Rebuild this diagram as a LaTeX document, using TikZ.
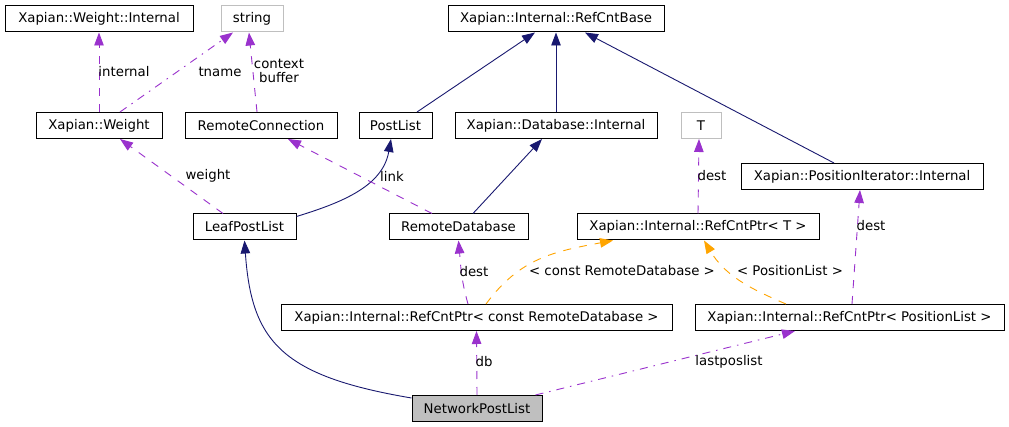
\documentclass[tikz,border=0pt]{standalone}
\usepackage{fontspec}
\setmainfont{DejaVu Sans}
\usetikzlibrary{arrows.meta}
\definecolor{depc}{RGB}{154,50,205}
\definecolor{inhc}{RGB}{25,25,112}
\definecolor{tplc}{RGB}{255,165,0}
\definecolor{greyb}{RGB}{191,191,191}
\begin{document}
\begin{tikzpicture}[x=1pt,y=1pt,
  cls/.style={draw=black, line width=1pt, inner sep=0pt, minimum height=26pt,
    font=\fontsize{13.3}{16}\selectfont},
  ext/.style={cls, draw=greyb},
  cur/.style={cls, fill=greyb},
  lbl/.style={inner sep=0pt, font=\fontsize{13.3}{16}\selectfont, align=center},
  tipx/.style={-{Triangle[length=13pt,width=9.5pt]}},
  inharr/.style={draw=inhc, line width=0.9pt, tipx},
  usearr/.style={draw=depc, line width=0.9pt, dash pattern=on 8pt off 8pt, tipx},
  usedot/.style={draw=depc, line width=0.9pt, dash pattern=on 8pt off 6pt on 1.5pt off 6pt, tipx},
  tplarr/.style={draw=tplc, line width=0.9pt, dash pattern=on 8pt off 8pt, tipx}
]
\fill[white] (0,0) rectangle (1009,-427);
\useasboundingbox (0,0) rectangle (1009,-427);

% nodes
\node[cls, minimum width=188pt] (wi) at (99,-19) {Xapian::Weight::Internal};
\node[ext, minimum width=62pt] (str) at (252,-19) {string};
\node[cls, minimum width=216pt] (rcb) at (556,-19) {Xapian::Internal::RefCntBase};
\node[cls, minimum width=126pt] (w) at (99,-125.5) {Xapian::Weight};
\node[cls, minimum width=152pt] (rc) at (261,-125.5) {RemoteConnection};
\node[cls, minimum width=73pt] (pl) at (395.5,-125.5) {PostList};
\node[cls, minimum width=202pt] (dbi) at (556,-125.5) {Xapian::Database::Internal};
\node[ext, minimum width=40pt] (t) at (701,-125.5) {T};
\node[cls, minimum width=242pt] (pii) at (862,-176.5) {Xapian::PositionIterator::Internal};
\node[cls, minimum width=103pt] (lpl) at (244.5,-227) {LeafPostList};
\node[cls, minimum width=139pt] (rd) at (458.5,-227) {RemoteDatabase};
\node[cls, minimum width=242pt] (rct) at (698,-227) {Xapian::Internal::RefCntPtr< T >};
\node[cls, minimum width=391pt] (rcrd) at (476.5,-317.5) {Xapian::Internal::RefCntPtr< const RemoteDatabase >};
\node[cls, minimum width=309pt] (rpl) at (849.5,-317.5) {Xapian::Internal::RefCntPtr< PositionList >};
\node[cur, minimum width=130pt] (npl) at (477,-408.5) {NetworkPostList};

% connectors
\draw[usearr] (w.north) -- (wi.south);
\draw[usedot] ([xshift=21pt]w.north) -- ([xshift=-19pt]str.south);
\draw[usearr] ([xshift=-4pt]rc.north) -- ([xshift=-3pt]str.south);
\draw[inharr] ([xshift=21.5pt]pl.north) -- ([xshift=-21pt]rcb.south);
\draw[inharr] (dbi.north) -- (rcb.south);
\draw[inharr] ([xshift=-28pt]pii.north) -- ([xshift=29pt]rcb.south);
\draw[usearr] ([xshift=-21.5pt]lpl.north) -- ([xshift=21pt]w.south);
\draw[inharr] ([yshift=-3pt]lpl.north east) to[out=17,in=-100] ([xshift=-4.5pt]pl.south);
\draw[usearr] ([xshift=-26.5pt]rd.north) -- ([xshift=27pt]rc.south);
\draw[inharr] ([xshift=14.5pt]rd.north) -- ([xshift=-14pt]dbi.south);
\draw[usearr] (rct.north) -- ([xshift=-2pt]t.south);
\draw[usearr] ([xshift=2.5pt]rpl.north) -- ([xshift=-2pt]pii.south);
\draw[usearr] ([xshift=-8.5pt]rcrd.north) to[out=106,in=-85] (rd.south);
\draw[tplarr] ([xshift=9.5pt]rcrd.north) .. controls +(34,46) and +(-59,-11) .. ([xshift=-85pt]rct.south);
\draw[tplarr] ([xshift=-63.5pt]rpl.north) to[out=157,in=-59] ([xshift=6pt]rct.south);
\draw[inharr] ([yshift=-3pt]npl.north west) .. controls +(-130,22) and +(7,-101) .. (lpl.south);
\draw[usearr] (npl.north) -- (rcrd.south);
\draw[usedot] ([xshift=-7pt]npl.north east) -- ([xshift=-54.5pt]rpl.south);

% labels
\node[lbl] (linternal) at (124,-72) {internal};
\node[lbl] (ltname) at (220,-72) {tname};
\node[lbl] (lcontext) at (279,-71) {context\\[-2pt]buffer};
\node[lbl] (lweight) at (208,-176) {weight};
\node[lbl] (llink) at (392,-176) {link};
\node[lbl] (ldestt) at (712,-176) {dest};
\node[lbl] (ldestp) at (871,-226) {dest};
\node[lbl] (ldestr) at (474,-272) {dest};
\node[lbl] (lcrd) at (622,-271) {< const RemoteDatabase >};
\node[lbl] (lpos) at (790,-271) {< PositionList >};
\node[lbl] (ldb) at (484,-362) {db};
\node[lbl] (llast) at (729,-362) {lastposlist};
\end{tikzpicture}
\end{document}
